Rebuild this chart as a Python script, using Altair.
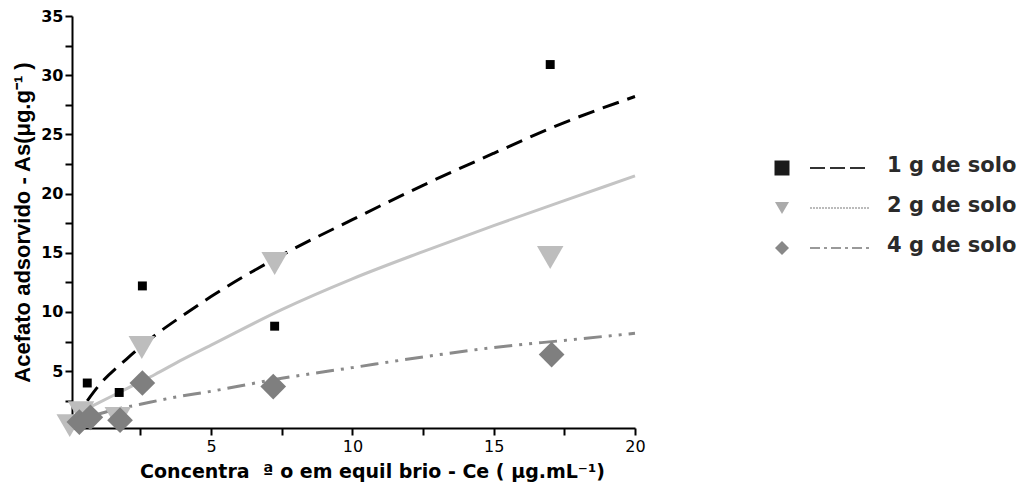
import altair as alt
import pandas as pd

series = ["1 g de solo", "2 g de solo", "4 g de solo"]

# measured points
pts1_x = [0.62, 1.75, 2.57, 7.25, 17.0]
pts1_y = [4.0, 3.2, 12.2, 8.8, 30.9]
pts2_x = [0.0, 0.4, 1.7, 2.55, 7.25, 17.0]
pts2_y = [0.4, 1.5, 1.0, 7.0, 14.1, 14.6]
pts3_x = [0.34, 0.73, 1.78, 2.57, 7.2, 17.05]
pts3_y = [0.7, 1.1, 0.86, 4.0, 3.7, 6.4]

# fitted curves
c1_x = [0.62, 1.0, 2.0, 3.0, 4.0, 5.0, 7.5, 10.0, 12.5, 15.0, 17.5, 20.0]
c1_y = [2.5, 3.7, 6.0, 8.0, 9.7, 11.3, 14.8, 17.8, 20.7, 23.4, 26.0, 28.2]
c2_x = [0.5, 1.0, 2.0, 2.5, 3.0, 4.0, 5.0, 7.5, 10.0, 12.5, 15.0, 17.5, 20.0]
c2_y = [1.7, 2.3, 3.5, 4.1, 4.7, 6.0, 7.2, 10.2, 12.8, 15.1, 17.3, 19.4, 21.5]
c3_x = [0.9, 1.5, 2.5, 3.5, 5.0, 7.5, 10.0, 12.5, 15.0, 17.5, 20.0]
c3_y = [1.3, 1.7, 2.2, 2.7, 3.3, 4.4, 5.3, 6.2, 7.0, 7.6, 8.2]

x_ticks = [2.5, 5, 7.5, 10, 12.5, 15, 17.5, 20]
y_ticks = [2.5, 5, 7.5, 10, 12.5, 15, 17.5, 20, 22.5, 25, 27.5, 30, 32.5, 35]

pts = [(pts1_x, pts1_y), (pts2_x, pts2_y), (pts3_x, pts3_y)]
curves = [(c1_x, c1_y), (c2_x, c2_y), (c3_x, c3_y)]

point_style = [
    dict(shape="square", color="#000000", size=80),
    dict(shape="triangle-down", color="#bdbdbd", size=700),
    dict(shape="diamond", color="#7f7f7f", size=660),
]
line_style = [
    dict(color="#000000", strokeWidth=3, strokeDash=[17, 9]),
    dict(color="#c4c4c4", strokeWidth=3),
    dict(color="#8a8a8a", strokeWidth=3, strokeDash=[18, 7, 3, 7, 3, 7]),
]
leg_point = [
    dict(shape="square", color="#1a1a1a", size=225),
    dict(shape="triangle-down", color="#ababab", size=196),
    dict(shape="diamond", color="#888888", size=196),
]
leg_line = [
    dict(color="#333333", strokeWidth=2, strokeDash=[15, 5]),
    dict(color="#bbbbbb", strokeWidth=2, strokeDash=[2, 1]),
    dict(color="#999999", strokeWidth=2, strokeDash=[10, 4, 3, 4]),
]
leg_y = [152, 192, 232]

FONT = "Liberation Sans"
WIDE = "DejaVu Sans"
NB = "\u00a0"

x_enc = alt.X(
    "x:Q",
    scale=alt.Scale(domain=[0.08, 20], nice=False, zero=False),
    axis=alt.Axis(
        values=x_ticks,
        labelExpr="datum.value % 5 == 0 ? datum.label : ''",
        title="Concentra" + NB + NB + "ª o em equil brio - Ce ( μg.mL⁻¹)",
        grid=False, tickSize=7, tickWidth=2, domainWidth=2,
        domainColor="black", tickColor="black",
        labelFont=WIDE, labelFontSize=16, labelColor="black",
        labelPadding=3, labelFlush=False, labelOverlap=False,
        titleFont=WIDE, titleFontSize=19, titleFontWeight="bold",
        titleColor="black", titlePadding=8, titleX=300,
    ),
)
y_enc = alt.Y(
    "y:Q",
    scale=alt.Scale(domain=[0.2, 35], nice=False, zero=False),
    axis=alt.Axis(
        values=y_ticks,
        labelExpr="datum.value % 5 == 0 ? datum.label : ''",
        title="Acefato adsorvido - As(μg.g⁻¹ )",
        grid=False, tickSize=7, tickWidth=2, domainWidth=2,
        domainColor="black", tickColor="black",
        labelFont=WIDE, labelFontSize=16, labelFontWeight="bold",
        labelColor="black", labelPadding=2, labelOverlap=False,
        titleFont=FONT, titleFontSize=22, titleFontWeight="bold",
        titleColor="black", titlePadding=6,
    ),
)

layers = []
for i, name in enumerate(series):
    cx, cy = curves[i]
    df = pd.DataFrame({"x": cx, "y": cy, "serie": name})
    layers.append(
        alt.Chart(df).mark_line(interpolate="monotone", **line_style[i]).encode(x=x_enc, y=y_enc)
    )
for i, name in enumerate(series):
    px, py = pts[i]
    df = pd.DataFrame({"x": px, "y": py, "serie": name})
    st = point_style[i]
    layers.append(
        alt.Chart(df).mark_point(filled=True, opacity=1, shape=st["shape"],
                                 color=st["color"], size=st["size"]).encode(x=x_enc, y=y_enc)
    )

# legend
for i, name in enumerate(series):
    ld = pd.DataFrame({"label": [name]})
    lp = leg_point[i]
    layers.append(
        alt.Chart(ld).mark_point(filled=True, opacity=1, shape=lp["shape"],
                                 color=lp["color"], size=lp["size"]).encode(
            x=alt.value(710), y=alt.value(leg_y[i]))
    )
    layers.append(
        alt.Chart(ld).mark_rule(**leg_line[i]).encode(
            x=alt.value(738), x2=alt.value(797), y=alt.value(leg_y[i]))
    )
    layers.append(
        alt.Chart(ld).mark_text(align="left", baseline="middle", font=WIDE,
                                fontSize=21, fontWeight="bold", color="#2a2a2a").encode(
            x=alt.value(815), y=alt.value(leg_y[i] - 2), text="label:N")
    )

chart = alt.layer(*layers).properties(
    width=563, height=412,
    padding={"left": 3, "top": 0, "right": 2, "bottom": 2},
    background="white",
).configure_view(stroke=None)

chart.save("out.html", embed_options={"renderer": "svg", "actions": False})
